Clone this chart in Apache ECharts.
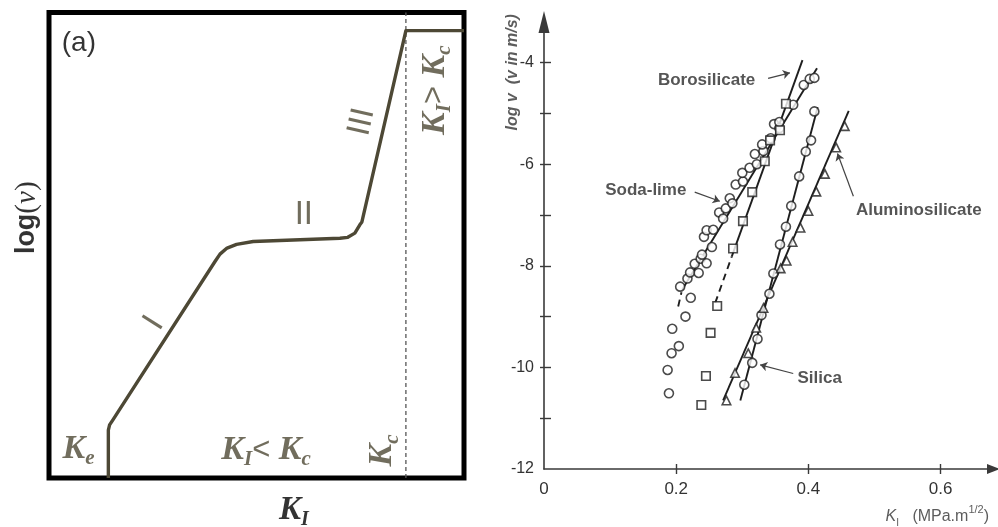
<!DOCTYPE html>
<html><head><meta charset="utf-8">
<script src="https://cdn.jsdelivr.net/npm/echarts@6/dist/echarts.min.js"></script>
<style>html,body{margin:0;padding:0;background:#fff}#c{width:998px;height:527px}</style>
</head><body><div id="c"></div>
<script>
// ---------- Panel (a): schematic v-K curve (arbitrary 0..100 units) ----------
const phaseK = [14.3, 14.3, 14.6, 15.4, 40.0, 41.2, 42.9, 45.2, 49.2, 70.1, 72.0, 73.7, 74.9, 75.4, 86.0, 100];
const phaseV = [0, 10.3, 11.4, 12.5, 46.5, 48.1, 49.4, 50.2, 50.8, 51.5, 51.7, 52.6, 54.4, 55.0, 96.1, 96.1];
const kcK = [86.0, 86.0];
const kcV = [0, 100];

// ---------- Panel (b): log v vs K_I (MPa.m^1/2) ----------
const sodaLimeK = [0.189,0.187,0.193,0.204,0.194,0.214,0.222,0.206,0.217,0.221,0.234,0.228,0.237,0.239,0.246,0.254,0.242,0.246,0.256,0.265,0.271,0.275,0.281,0.285,0.290,0.301,0.300,0.311,0.319,0.322,0.332,0.330,0.343,0.348,0.356,0.356,0.377,0.393,0.402,0.409];
const sodaLimeV = [-10.51,-10.05,-9.72,-9.58,-9.24,-9.00,-8.63,-8.41,-8.25,-8.13,-8.14,-7.96,-7.86,-7.78,-7.95,-7.63,-7.43,-7.30,-7.29,-6.95,-7.07,-6.87,-6.67,-6.77,-6.40,-6.34,-6.17,-6.07,-5.80,-6.00,-5.74,-5.61,-5.49,-5.21,-5.29,-5.17,-4.83,-4.44,-4.32,-4.30];
const boroK = [0.238,0.245,0.252,0.262,0.286,0.301,0.315,0.334,0.342,0.357,0.366];
const boroV = [-10.74,-10.17,-9.32,-8.79,-7.66,-7.12,-6.55,-5.94,-5.53,-5.33,-4.81];
const silicaK = [0.303,0.315,0.323,0.329,0.341,0.347,0.357,0.366,0.374,0.386,0.396,0.404,0.409];
const silicaV = [-10.34,-9.91,-9.44,-8.97,-8.55,-8.15,-7.58,-7.23,-6.82,-6.24,-5.75,-5.53,-4.96];
const aluK = [0.276,0.289,0.309,0.321,0.332,0.358,0.367,0.376,0.388,0.400,0.412,0.425,0.442,0.455];
const aluV = [-10.65,-10.11,-9.72,-9.22,-8.83,-8.05,-7.90,-7.53,-7.25,-6.92,-6.54,-6.19,-5.67,-5.25];

// fitted lines (end points)
const sodaFitK = [0.209, 0.413],  sodaFitV = [-8.47, -4.11];
const sodaDashK = [0.203, 0.208], sodaDashV = [-8.80, -8.52];
const boroFitK = [0.284, 0.391],  boroFitV = [-7.82, -3.95];
const boroDashK = [0.259, 0.284], boroDashV = [-8.73, -7.82];
const silicaFitK = [0.297, 0.414], silicaFitV = [-10.65, -4.88];
const aluFitK = [0.271, 0.461],   aluFitV = [-10.65, -4.95];

// axis ticks / labels
const xTickVals = [0.2, 0.4, 0.6];
const xLabelVals = [0, 0.2, 0.4, 0.6];
const yTickVals = [-11, -10, -9, -8, -7, -6, -5, -4];
const yLabelVals = [-12, -10, -8, -6, -4];

// annotations
const seriesNames = ['Borosilicate', 'Soda-lime', 'Aluminosilicate', 'Silica'];
const nameAt = [[0.246, -4.34], [0.154, -6.52], [0.567, -6.90], [0.417, -10.21]];
const arrowFrom = [[0.339, -4.31], [0.228, -6.55], [0.468, -6.63], [0.377, -10.12]];
const arrowTo = [[0.372, -4.20], [0.266, -6.73], [0.444, -5.79], [0.327, -9.95]];

const zip = (a, b) => a.map((v, i) => [v, b[i]]);
const olive = '#4d4835';
const ink = '#1e1e1e';

const serifBI = {fontFamily: 'Liberation Serif', fontStyle: 'italic', fontWeight: 'bold'};
const leftRich = {
  k: Object.assign({fontSize: 34, color: olive, lineHeight: 40}, serifBI),
  s: Object.assign({fontSize: 21, color: olive, lineHeight: 19, verticalAlign: 'bottom'}, serifBI),
  o: {fontFamily: 'Liberation Sans', fontSize: 31, color: olive, lineHeight: 40},
  r: {fontFamily: 'Liberation Sans', fontSize: 33, color: olive, lineHeight: 40},
  a: {fontFamily: 'Liberation Sans', fontSize: 28, color: '#000', lineHeight: 34},
  kb: Object.assign({fontSize: 33, color: '#000', lineHeight: 40}, serifBI),
  sb: Object.assign({fontSize: 20, color: '#000', lineHeight: 18, verticalAlign: 'bottom'}, serifBI),
  lg: {fontFamily: 'Liberation Sans', fontWeight: 'bold', fontSize: 27, color: '#000', lineHeight: 36},
  lv: {fontFamily: 'Liberation Serif', fontStyle: 'italic', fontSize: 29, color: '#000', lineHeight: 36},
  lp: {fontFamily: 'Liberation Serif', fontSize: 29, color: '#000', lineHeight: 36}
};
const leftLabels = [
  {value: [7.2, 93.4], text: '{a|(a)}', rot: 0},
  {value: [25.3, 33.3], text: '{r|I}', rot: 57.6},
  {value: [61.4, 56.5], text: '{r|II}', rot: 0},
  {value: [75.4, 76.5], text: '{r|III}', rot: 77},
  {value: [7.1, 6.2], text: '{k|K}{s|e}', rot: 0},
  {value: [52.3, 6.0], text: '{k|K}{s|I}{o|<}{k| K}{s|c}', rot: 0},
  {value: [80.4, 5.9], text: '{k|K}{s|c}', rot: 90},
  {value: [93.0, 83.3], text: '{k|K}{s|I}{o|>}{k| K}{s|c}', rot: 90},
  {value: [59.0, -6.9], text: '{kb|K}{sb|I}', rot: 0},
  {value: [-5.3, 55.9], text: '{lg|log}{lp|(}{lv|v}{lp|)}', rot: 90}
];

const rightRich = {
  t: {fontFamily: 'Liberation Sans', fontWeight: 'bold', fontSize: 17, color: '#2a2a2a'},
  ya: {fontFamily: 'Liberation Sans', fontWeight: 'bold', fontStyle: 'italic', fontSize: 16, color: '#333'},
  xk: {fontFamily: 'Liberation Sans', fontStyle: 'italic', fontSize: 16, color: '#333', lineHeight: 24},
  xs: {fontFamily: 'Liberation Sans', fontSize: 10, color: '#333', lineHeight: 12, verticalAlign: 'bottom'},
  xn: {fontFamily: 'Liberation Sans', fontSize: 16, color: '#333', lineHeight: 24},
  xp: {fontFamily: 'Liberation Sans', fontSize: 11, color: '#333', lineHeight: 12, verticalAlign: 'top'}
};
const rightLabels = seriesNames.map((n, i) => ({value: nameAt[i], text: '{t|' + n + '}', rot: 0}))
  .concat([
    {value: [-0.048, -4.19], text: '{ya|log v  (v in m/s)}', rot: 90},
    {value: [0.595, -12.93], text: '{xk|K}{xs|I}{xn|   (MPa.m}{xp|1/2}{xn|)}', rot: 0}
  ]);

function labelSeries(xi, yi, list, rich) {
  return {
    type: 'scatter', xAxisIndex: xi, yAxisIndex: yi, clip: false, silent: true,
    symbolSize: 1, itemStyle: {color: 'rgba(0,0,0,0)'}, z: 20,
    label: {show: true, position: 'inside', rich: rich},
    data: list.map(d => ({value: d.value, label: {formatter: d.text, rotate: d.rot}}))
  };
}
function fitLine(k, v, dashed) {
  return {
    type: 'line', xAxisIndex: 1, yAxisIndex: 1, data: zip(k, v), showSymbol: false, silent: true,
    lineStyle: {color: ink, width: 1.9, type: dashed ? [7, 5] : 'solid'}, z: 3
  };
}
function markers(k, v, symbol, size) {
  return {
    type: 'scatter', xAxisIndex: 1, yAxisIndex: 1, data: zip(k, v), symbol: symbol, symbolSize: size,
    itemStyle: {color: '#fff', borderColor: ink, borderWidth: 1.6}, z: 5
  };
}

const axColor = '#3a3a3a';
const option = {
  animation: false,
  backgroundColor: '#fff',
  grid: [
    {left: 49, top: 12.5, width: 415, height: 465.5, show: true, borderColor: '#000', borderWidth: 5, backgroundColor: 'rgba(0,0,0,0)'},
    {left: 544, top: 22, width: 449.5, height: 447}
  ],
  xAxis: [
    {gridIndex: 0, type: 'value', min: 0, max: 100, show: false},
    {gridIndex: 1, type: 'value', min: 0, max: 0.68, position: 'bottom',
     axisLine: {show: true, onZero: false, symbol: ['none', 'triangle'], symbolSize: [10, 13], lineStyle: {color: axColor, width: 1.6}},
     axisTick: {show: true, customValues: xTickVals, length: 5, lineStyle: {color: axColor, width: 1.4}},
     axisLabel: {show: true, customValues: xLabelVals, formatter: v => (v === 0 ? '0' : v.toFixed(1)), margin: 12, color: '#333', fontSize: 17, fontFamily: 'Liberation Sans'},
     splitLine: {show: false}},
    {gridIndex: 1, type: 'value', min: 0, max: 0.68, position: 'bottom',
     axisLine: {show: false, onZero: false},
     axisTick: {show: true, inside: true, customValues: xTickVals, length: 5, lineStyle: {color: axColor, width: 1.4}},
     axisLabel: {show: false}, splitLine: {show: false}}
  ],
  yAxis: [
    {gridIndex: 0, type: 'value', min: 0, max: 100, show: false},
    {gridIndex: 1, type: 'value', min: -12, max: -3.2, position: 'left',
     axisLine: {show: true, onZero: false, symbol: ['none', 'triangle'], symbolSize: [11, 22], lineStyle: {color: axColor, width: 1.6}},
     axisTick: {show: true, customValues: yTickVals, length: 4, lineStyle: {color: axColor, width: 1.4}},
     axisLabel: {show: true, customValues: yLabelVals, margin: 10, color: '#333', fontSize: 16, fontFamily: 'Liberation Sans'},
     splitLine: {show: false}},
    {gridIndex: 1, type: 'value', min: -12, max: -3.2, position: 'left',
     axisLine: {show: false, onZero: false},
     axisTick: {show: true, inside: true, customValues: yTickVals, length: 7, lineStyle: {color: axColor, width: 1.4}},
     axisLabel: {show: false}, splitLine: {show: false}}
  ],
  series: [
    {type: 'line', xAxisIndex: 0, yAxisIndex: 0, data: zip(phaseK, phaseV), showSymbol: false, silent: true,
     lineStyle: {color: olive, width: 3.4, join: 'round', cap: 'butt'}, z: 3},
    {type: 'line', xAxisIndex: 0, yAxisIndex: 0, data: zip(kcK, kcV), showSymbol: false, silent: true,
     lineStyle: {color: '#555', width: 1.3, type: [4, 3]}, z: 2},
    labelSeries(0, 0, leftLabels, leftRich),

    fitLine(sodaFitK, sodaFitV, false),
    fitLine(sodaDashK, sodaDashV, true),
    fitLine(boroFitK, boroFitV, false),
    fitLine(boroDashK, boroDashV, true),
    fitLine(silicaFitK, silicaFitV, false),
    fitLine(aluFitK, aluFitV, false),
    markers(sodaLimeK, sodaLimeV, 'circle', 9),
    markers(boroK, boroV, 'rect', 8.5),
    markers(silicaK, silicaV, 'circle', 9),
    markers(aluK, aluV, 'triangle', 8.5),
    {type: 'lines', coordinateSystem: 'cartesian2d', xAxisIndex: 1, yAxisIndex: 1, silent: true,
     symbol: ['none', 'arrow'], symbolSize: 7,
     lineStyle: {color: '#444', width: 1.2, opacity: 1, curveness: 0},
     data: arrowFrom.map((p, i) => ({coords: [p, arrowTo[i]]})), z: 6},
    labelSeries(1, 1, rightLabels, rightRich)
  ]
};
const chart = echarts.init(document.getElementById('c'), null, {renderer: 'canvas'});
chart.setOption(option);
</script></body></html>
